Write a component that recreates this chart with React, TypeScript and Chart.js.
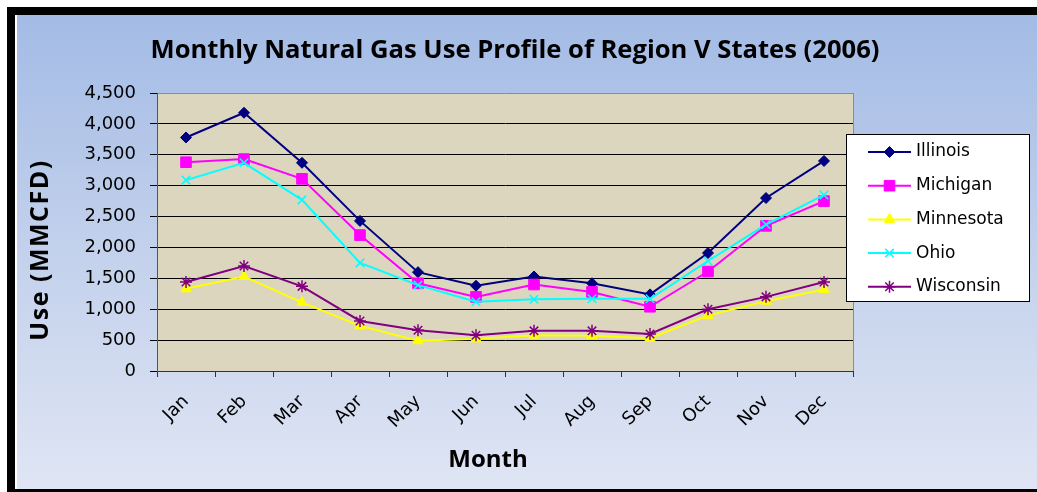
import React, { useEffect, useRef } from "react";
import { Chart, registerables } from "chart.js";
import { drawPoint } from "chart.js/helpers";

Chart.register(...registerables);

const months = ["Jan", "Feb", "Mar", "Apr", "May", "Jun", "Jul", "Aug", "Sep", "Oct", "Nov", "Dec"];
const illinois = [3780, 4180, 3370, 2430, 1600, 1380, 1530, 1420, 1240, 1910, 2800, 3400];
const michigan = [3380, 3430, 3110, 2200, 1420, 1200, 1400, 1280, 1040, 1610, 2350, 2750];
const minnesota = [1330, 1530, 1110, 730, 490, 520, 580, 570, 530, 900, 1130, 1320];
const ohio = [3090, 3370, 2770, 1750, 1390, 1120, 1160, 1170, 1170, 1780, 2370, 2850];
const wisconsin = [1440, 1700, 1370, 810, 660, 580, 650, 650, 600, 1000, 1200, 1440];
const seriesNames = ["Illinois", "Michigan", "Minnesota", "Ohio", "Wisconsin"];
const seriesColors = ["#000080", "#ff00ff", "#ffff00", "#00ffff", "#800080"];
const seriesStyles = ["rectRot", "rect", "triangle", "crossRot", "star"];
const seriesRadius = [5.5, 7.5, 6, 6, 6];
const yMin = 0;
const yMax = 4500;
const yStep = 500;
const chartTitle = "Monthly Natural Gas Use Profile of Region V States (2006)";
const yTitle = "Use (MMCFD)";
const xTitle = "Month";

const W = 1037;
const H = 492;

const framePlugin = {
  id: "frame",
  beforeDraw(chart: any) {
    const ctx = chart.ctx;
    const ca = chart.chartArea;
    ctx.save();
    ctx.fillStyle = "#ffffff";
    ctx.fillRect(0, 0, W, H);
    const g = ctx.createLinearGradient(0, 15, 0, 489);
    g.addColorStop(0, "#a3bbe5");
    g.addColorStop(0.5, "#c3d1ec");
    g.addColorStop(1, "#dfe5f4");
    ctx.fillStyle = g;
    ctx.fillRect(17, 15, W - 17, 474);
    ctx.fillStyle = "#000000";
    ctx.fillRect(7, 7, W - 7, 8);
    ctx.fillRect(7, 7, 8, H - 7);
    ctx.fillRect(7, 489, W - 7, 3);
    ctx.fillStyle = "#dcd6bf";
    ctx.fillRect(ca.left, ca.top, ca.right - ca.left, ca.bottom - ca.top);
    ctx.restore();
  },
  beforeDatasetsDraw(chart: any) {
    const ctx = chart.ctx;
    const ca = chart.chartArea;
    ctx.save();
    ctx.strokeStyle = "#8c8c8c";
    ctx.lineWidth = 1;
    ctx.beginPath();
    ctx.moveTo(Math.round(ca.right) + 0.5, ca.top);
    ctx.lineTo(Math.round(ca.right) + 0.5, ca.bottom);
    ctx.stroke();
    ctx.restore();
  },
  afterDraw(chart: any) {
    const ctx = chart.ctx;
    ctx.save();
    ctx.fillStyle = "#000000";
    ctx.textAlign = "center";
    ctx.textBaseline = "middle";
    ctx.font = "bold 25.6px 'Open Sans'";
    ctx.fillText(chartTitle, 515, 51);
    ctx.font = "bold 24px 'Open Sans'";
    ctx.fillText(xTitle, 488, 460);
    ctx.save();
    ctx.translate(41, 250);
    ctx.rotate(-Math.PI / 2);
    (ctx as any).letterSpacing = "1.5px";
    ctx.font = "bold 25px 'Open Sans'";
    ctx.fillText(yTitle, 0, 0);
    ctx.restore();

    const lx = 846, ly = 134, lw = 184, lh = 168;
    ctx.fillStyle = "#ffffff";
    ctx.fillRect(lx, ly, lw, lh);
    ctx.strokeStyle = "#000000";
    ctx.lineWidth = 1;
    ctx.strokeRect(lx + 0.5, ly + 0.5, lw - 1, lh - 1);
    ctx.font = "17px 'DejaVu Sans'";
    ctx.textAlign = "left";
    ctx.textBaseline = "middle";
    chart.data.datasets.forEach((ds: any, i: number) => {
      const y = 152 + i * 33.7;
      ctx.strokeStyle = ds.borderColor;
      ctx.lineWidth = 2;
      ctx.beginPath();
      ctx.moveTo(868, y);
      ctx.lineTo(911, y);
      ctx.stroke();
      ctx.fillStyle = ds.pointBackgroundColor;
      ctx.strokeStyle = ds.pointBorderColor;
      ctx.lineWidth = ds.pointBorderWidth;
      drawPoint(ctx, {
        pointStyle: ds.pointStyle,
        radius: ds.pointRadius,
        borderWidth: ds.pointBorderWidth,
        rotation: 0,
      } as any, 889.5, y);
      ctx.fillStyle = "#000000";
      ctx.fillText(ds.label, 916, y);
    });
    ctx.restore();
  },
};

export default function App() {
  const ref = useRef<HTMLCanvasElement | null>(null);
  useEffect(() => {
    const canvas = ref.current!;
    const values = [illinois, michigan, minnesota, ohio, wisconsin];
    const datasets = values.map((d, i) => ({
      label: seriesNames[i],
      data: d,
      borderColor: seriesColors[i],
      backgroundColor: seriesColors[i],
      pointBackgroundColor: seriesColors[i],
      pointBorderColor: seriesColors[i],
      pointStyle: seriesStyles[i],
      pointRadius: seriesRadius[i],
      pointBorderWidth: i >= 3 ? 1.5 : 1,
      borderWidth: 2,
      tension: 0,
      fill: false,
      order: 5 - i,
    }));

    const chart = new Chart(canvas, {
      type: "line",
      data: { labels: months, datasets: datasets as any },
      options: {
        responsive: false,
        animation: false,
        devicePixelRatio: 1,
        layout: { padding: { left: 0, top: 93, right: W - 853, bottom: 0 } },
        plugins: {
          legend: { display: false },
          title: { display: false },
          tooltip: { enabled: false },
        },
        scales: {
          x: {
            type: "category",
            offset: true,
            afterFit: (s: any) => { s.height = H - 371; },
            grid: {
              offset: true,
              drawOnChartArea: false,
              tickLength: 6,
              tickColor: "#333333",
              lineWidth: 1,
            },
            border: { display: true, color: "#333333", width: 1 },
            ticks: {
              color: "#000000",
              font: { family: "'DejaVu Sans'", size: 18 },
              maxRotation: 45,
              minRotation: 45,
              padding: 14,
              autoSkip: false,
            },
          },
          y: {
            min: yMin,
            max: yMax,
            afterFit: (s: any) => { s.width = 157; },
            grid: {
              color: (c: any) => (c.tick && c.tick.value === yMax ? "#8c8c8c" : "#000000"),
              tickColor: "#000000",
              tickLength: 7,
              lineWidth: 1,
            },
            border: { display: true, color: "#555555", width: 1 },
            ticks: {
              stepSize: yStep,
              color: "#000000",
              font: { family: "'DejaVu Sans'", size: 18 },
              padding: 14,
              callback: (v: any) => Number(v).toLocaleString("en-US"),
            },
          },
        },
      },
      plugins: [framePlugin],
    });
    return () => chart.destroy();
  }, []);
  return (
    <div style={{ position: "fixed", left: 0, top: 0, width: W, height: H }}>
      <canvas ref={ref} width={W} height={H} style={{ width: W, height: H, display: "block" }} />
    </div>
  );
}
